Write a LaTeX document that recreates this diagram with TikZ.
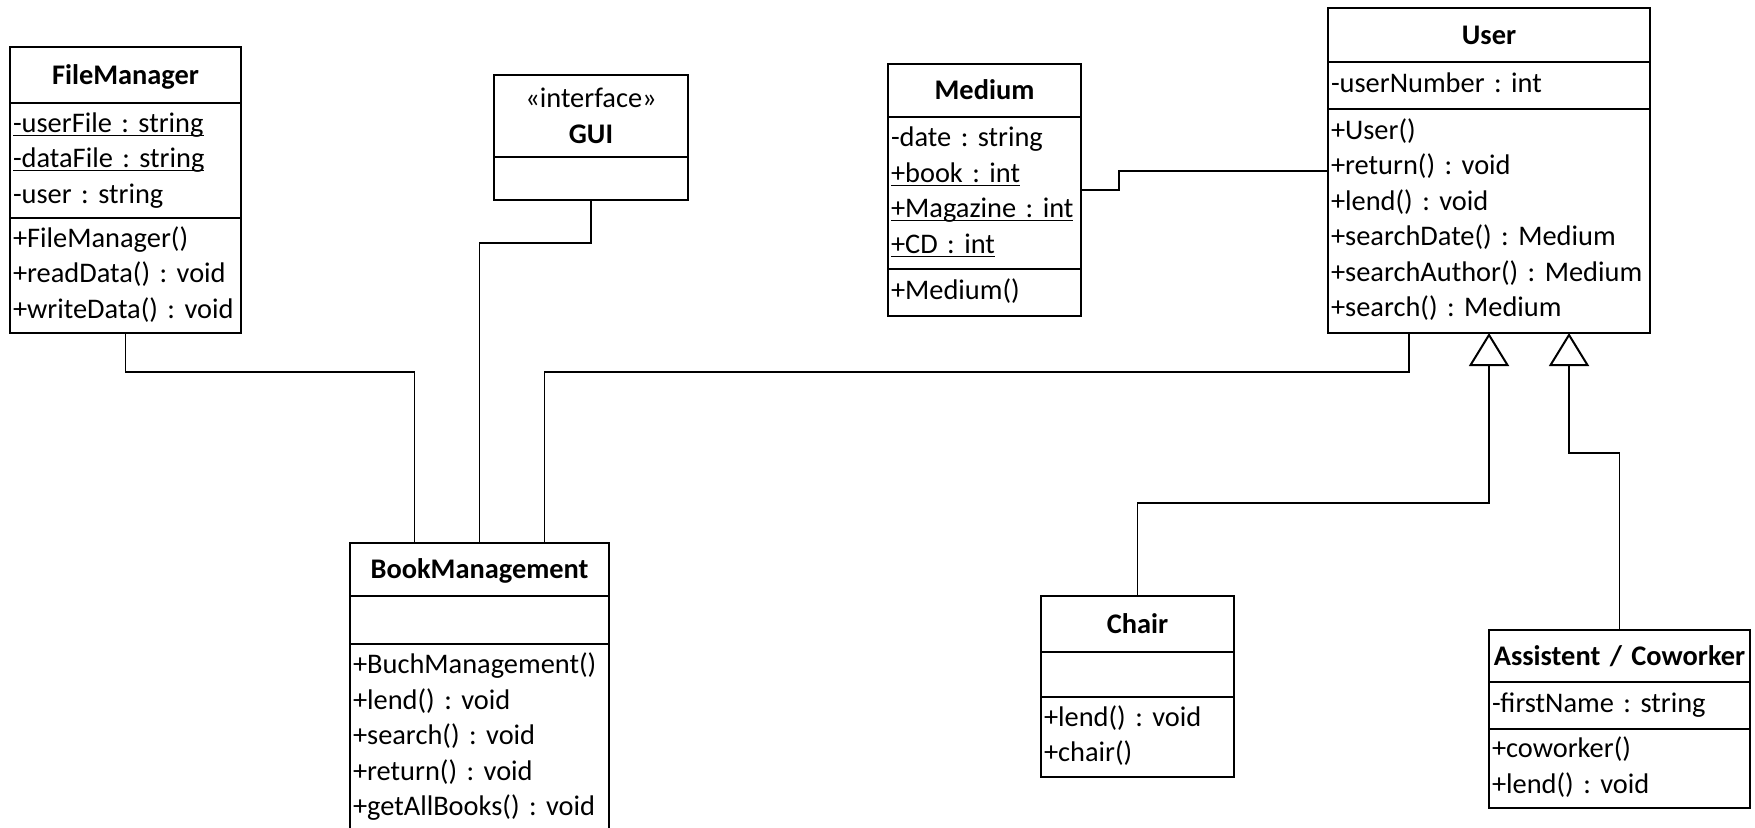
\documentclass[tikz,border=0pt]{standalone}
\usepackage{fontspec}
\setmainfont{Carlito}
\usetikzlibrary{positioning, arrows.meta}

\newcommand{\staticm}[1]{\underline{\smash{#1}}}

\tikzset{
	classbox/.style = {draw, line width=1.2pt, outer sep=0pt, inner xsep=1.5pt, inner ysep=0pt},
	iname/.style = {classbox, align=center, font=\bfseries},
	cname/.style = {iname, text height=14.3pt, text depth=5.3pt},
	members/.style = {classbox, align=left},
	assoc/.style = {line width=0.6pt},
	inherit/.style = {line width=0.6pt, -{Triangle[open, length=16.5pt, width=20pt, line width=1pt]}}
}

\begin{document}
\frenchspacing
\fontsize{14.2}{17.75}\selectfont
\begin{tikzpicture}[x=0.5pt, y=-0.5pt]
	\useasboundingbox (0,0) rectangle (1755,827);
	\clip (0,0) rectangle (1755,827);

	\node[cname, text width=112.5pt, minimum height=28pt, anchor=north west] (fmT) at (10,47) {FileManager};
	\node[members, text width=112.5pt, minimum height=57.5pt, below=0pt of fmT] (fmA) {\strut\staticm{-userFile : string}\\ \strut\staticm{-dataFile : string}\\ \strut-user : string};
	\node[members, text width=112.5pt, minimum height=57.5pt, below=0pt of fmA] (fmO) {\strut+FileManager()\\ \strut+readData() : void\\ \strut+writeData() : void};

	\node[iname, text width=94pt, minimum height=41pt, anchor=north west] (guiT) at (494,75) {\rule{0pt}{15pt}\textmd{«interface»}\\ \strut GUI};
	\node[members, text width=94pt, minimum height=21.5pt, below=0pt of guiT] (guiA) {};

	\node[cname, text width=93.5pt, minimum height=26.5pt, anchor=north west] (mdT) at (888,64) {Medium};
	\node[members, text width=93.5pt, minimum height=76pt, below=0pt of mdT] (mdA) {\strut-date : string\\ \strut\staticm{+book : int}\\ \strut\staticm{+Magazine : int}\\ \strut\staticm{+CD : int}};
	\node[members, text width=93.5pt, minimum height=23.5pt, below=0pt of mdA] (mdO) {\strut+Medium()};

	\node[cname, text width=158pt, minimum height=27pt, anchor=north west] (usT) at (1328,8) {User};
	\node[members, text width=158pt, minimum height=23.5pt, below=0pt of usT] (usA) {\strut-userNumber : int};
	\node[members, text width=158pt, minimum height=112pt, below=0pt of usA] (usO) {\strut+User()\\ \strut+return() : void\\ \strut+lend() : void\\ \strut+searchDate() : Medium\\ \strut+searchAuthor() : Medium\\ \strut+search() : Medium};

	\node[cname, text width=126.5pt, minimum height=26.5pt, anchor=north west] (bmT) at (350,543) {BookManagement};
	\node[members, text width=126.5pt, minimum height=24pt, below=0pt of bmT] (bmA) {};
	\node[members, text width=126.5pt, minimum height=93.75pt, below=0pt of bmA] (bmO) {\strut+BuchManagement()\\ \strut+lend() : void\\ \strut+search() : void\\ \strut+return() : void\\ \strut+getAllBooks() : void};

	\node[cname, text width=93.5pt, minimum height=28pt, anchor=north west] (chT) at (1041,596) {Chair};
	\node[members, text width=93.5pt, minimum height=22.5pt, below=0pt of chT] (chA) {};
	\node[members, text width=93.5pt, minimum height=40pt, below=0pt of chA] (chO) {\strut+lend() : void\\ \strut+chair()};

	\node[cname, text width=127.5pt, minimum height=26pt, anchor=north west] (cwT) at (1489,630) {Assistent / Coworker};
	\node[members, text width=127.5pt, minimum height=23.5pt, below=0pt of cwT] (cwA) {\strut-firstName : string};
	\node[members, text width=127.5pt, minimum height=39.5pt, below=0pt of cwA] (cwO) {\strut+coworker()\\ \strut+lend() : void};

	\draw[assoc] (fmO.south) -- ++(0,39) -| ([xshift=-32.5pt]bmT.north);
	\draw[assoc] (guiA.south) -- ++(0,43) -| (bmT.north);
	\draw[assoc] ([xshift=-40pt]usO.south) -- ++(0,39) -| ([xshift=32.5pt]bmT.north);
	\draw[assoc] ([yshift=1.5pt]mdA.east) -- ++(38,0) |- ([yshift=25pt]usO.west);

	\draw[inherit] (chT.north) -- ++(0,-93) -| (usO.south);
	\draw[inherit] (cwT.north) -- ++(0,-177) -| ([xshift=40pt]usO.south);
\end{tikzpicture}
\end{document}
